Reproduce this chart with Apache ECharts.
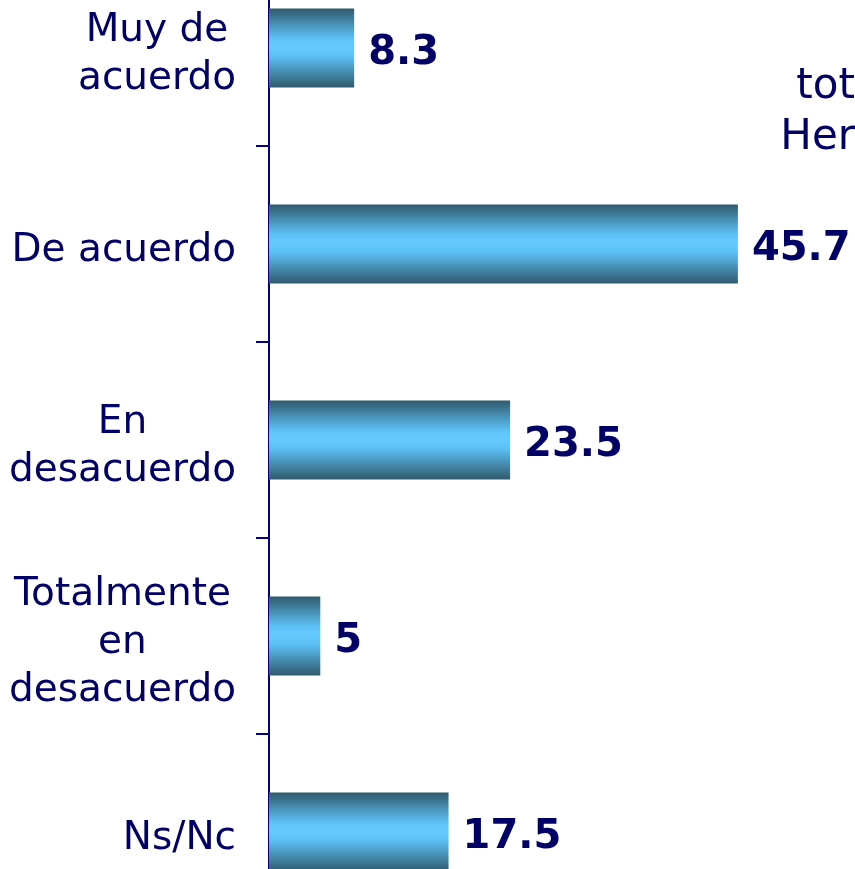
<!DOCTYPE html>
<html>
<head>
<meta charset="utf-8">
<style>html,body{margin:0;padding:0;background:#fff;overflow:hidden;width:855px;height:869px;}#c{width:855px;height:980px;margin-top:-50px;}</style>
<script src="https://cdn.jsdelivr.net/npm/echarts@6/dist/echarts.min.js"></script>
</head>
<body>
<div id="c"></div>
<script>
const categories = ["Muy de\nacuerdo", "De acuerdo", "En\ndesacuerdo", "Totalmente\nen\ndesacuerdo", "Ns/Nc"];
const values = [8.3, 45.7, 23.5, 5, 17.5];
const cornerText = "tot\nHer";

const chart = echarts.init(document.getElementById('c'), null, {renderer: 'canvas'});
const navy = '#000066';
const font = 'DejaVu Sans';
chart.setOption({
  animation: false,
  backgroundColor: '#ffffff',
  graphic: [{
    type: 'text', right: 0, top: 112,
    style: {text: cornerText, font: '42px "DejaVu Sans"', fill: navy, textAlign: 'right', lineHeight: 51}
  }],
  grid: {left: 269, right: 73, top: 0, bottom: 0, containLabel: false},
  xAxis: {type: 'value', min: 0, max: 50, show: false},
  yAxis: {
    type: 'category', data: categories, inverse: true,
    axisLine: {show: true, lineStyle: {color: '#000080', width: 2}},
    axisTick: {show: true, length: 13, lineStyle: {color: '#000080', width: 2}},
    axisLabel: {
      margin: 33, align: 'right', lineHeight: 48, padding: [13, 0, 0, 0],
      formatter: function (v) { return v.split('\n').map(s => '{c|' + s + '}').join('\n'); },
      rich: {c: {align: 'center', fontSize: 39, fontFamily: font, color: navy, lineHeight: 48}}
    }
  },
  series: [{
    type: 'bar', data: values, barWidth: 79,
    itemStyle: {
      color: new echarts.graphic.LinearGradient(0, 0, 0, 1, [
        {offset: 0, color: '#2f5a6c'},
        {offset: 0.38, color: '#5cc2f6'},
        {offset: 0.48, color: '#63c9ff'},
        {offset: 0.6, color: '#5cc2f6'},
        {offset: 1, color: '#2f5a6c'}
      ])
    },
    label: {
      show: true, position: 'right', distance: 14, offset: [0, 6],
      fontSize: 40, fontWeight: 'bold', fontFamily: font, color: navy
    }
  }]
});
</script>
</body>
</html>
